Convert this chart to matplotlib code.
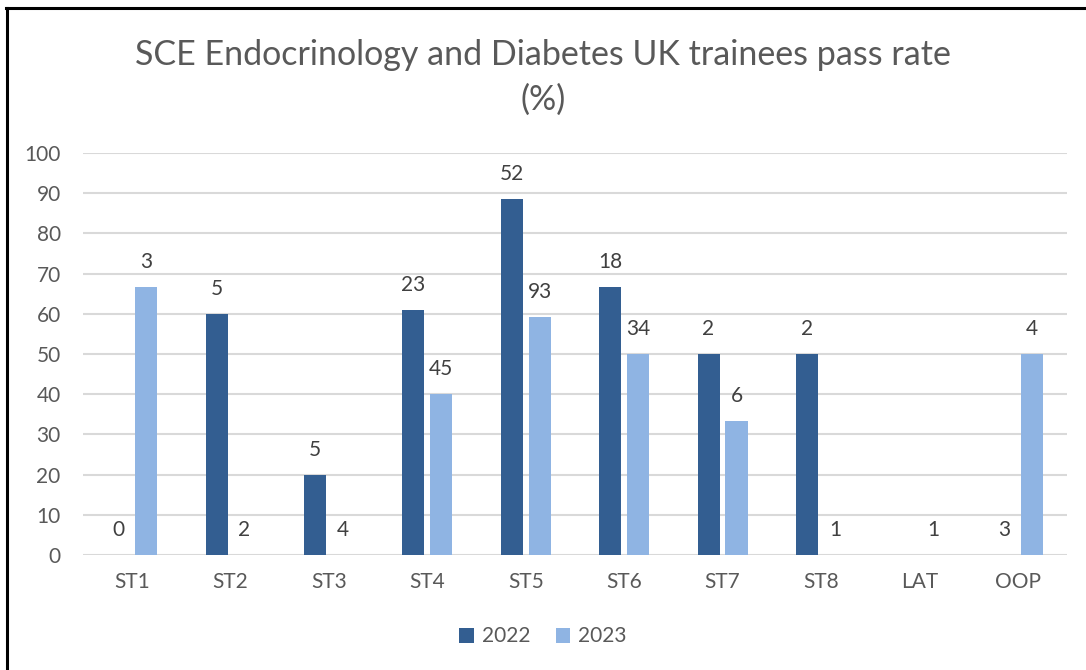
import numpy as np
import matplotlib.pyplot as plt
from matplotlib.lines import Line2D

plt.rcParams['font.family'] = ['Lato', 'DejaVu Sans']

categories = ['ST1', 'ST2', 'ST3', 'ST4', 'ST5', 'ST6', 'ST7', 'ST8', 'LAT', 'OOP']
# pass rate (%) and number of trainees per grade
rate_2022 = [0, 60, 20, 60.87, 88.46, 66.67, 50, 50, np.nan, 0]
n_2022 = [0, 5, 5, 23, 52, 18, 2, 2, None, 3]
rate_2023 = [66.67, 0, 0, 40, 59.14, 50, 33.33, 0, 0, 50]
n_2023 = [3, 2, 4, 45, 93, 34, 6, 1, 1, 4]

DARK = '#335e91'
LIGHT = '#8fb4e3'
GREY = '#595959'

fig = plt.figure(figsize=(10.86, 6.70), dpi=100)
ax = fig.add_axes([0.0764, 0.1716, 0.906, 0.6])

x = np.arange(len(categories))
w = 0.224
off = 0.142
b1 = ax.bar(x - off, rate_2022, w, color=DARK, label='2022', zorder=3)
b2 = ax.bar(x + off, rate_2023, w, color=LIGHT, label='2023', zorder=3)

for bars, vals, ns in [(b1, rate_2022, n_2022), (b2, rate_2023, n_2023)]:
    for rect, v, n in zip(bars, vals, ns):
        if n is None:
            continue
        ax.annotate(str(n), (rect.get_x() + rect.get_width() / 2, 0 if np.isnan(v) else v),
                    xytext=(0, 18), textcoords='offset points',
                    ha='center', va='center', fontsize=15, color='#404040')

ax.set_xlim(-0.5, len(categories) - 0.5)
ax.set_ylim(0, 100)
ax.set_yticks(range(0, 101, 10))
ax.set_xticks(x)
ax.set_xticklabels(categories)
ax.tick_params(axis='both', length=0, labelsize=15, labelcolor=GREY)
ax.tick_params(axis='x', pad=12)
ax.tick_params(axis='y', pad=16)
ax.yaxis.grid(True, color='#d9d9d9', linewidth=1.5, zorder=0)
for s in ax.spines.values():
    s.set_visible(False)

fig.text(0.5, 0.918, 'SCE Endocrinology and Diabetes UK trainees pass rate',
         ha='center', va='center', fontsize=24.5, color=GREY)
fig.text(0.5, 0.851, '(%)', ha='center', va='center', fontsize=24.5, color=GREY)

fig.legend(loc='center', bbox_to_anchor=(0.5, 0.05), ncol=2, frameon=False,
           fontsize=15, handlelength=0.7, handleheight=0.7, columnspacing=1.2,
           handletextpad=0.4, labelcolor=GREY)

# outer frame (left and top edges)
fig.add_artist(Line2D([0.0065, 0.0065], [0, 0.988], color='black', linewidth=2.2,
                      transform=fig.transFigure))
fig.add_artist(Line2D([0.0055, 1.0], [0.988, 0.988], color='black', linewidth=2.2,
                      transform=fig.transFigure))

fig.savefig('out.png', dpi=100, facecolor='white')
